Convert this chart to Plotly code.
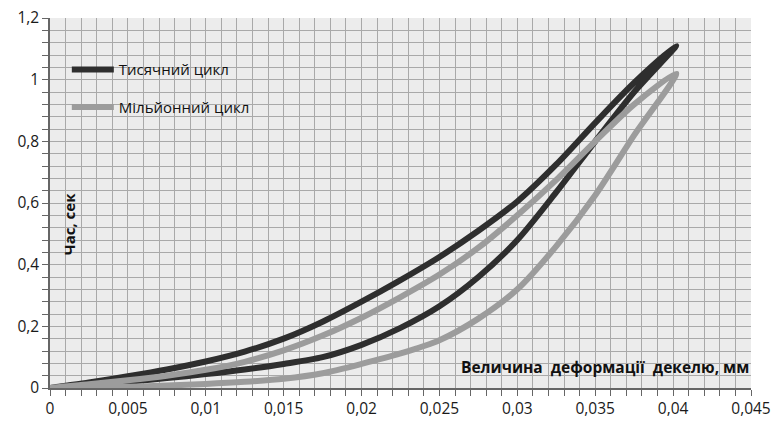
import plotly.graph_objects as go

# Тисячний цикл (dark) — loading (upper) and unloading (lower) branches
x_steps = [0, 0.0025, 0.005, 0.0075, 0.01, 0.0125, 0.015, 0.0175, 0.02,
           0.0225, 0.025, 0.0275, 0.03, 0.0325, 0.035, 0.0375, 0.0402]
thousand_upper = [0, 0.018, 0.038, 0.06, 0.086, 0.118, 0.16, 0.215, 0.28,
                  0.35, 0.425, 0.51, 0.605, 0.725, 0.86, 0.99, 1.11]
thousand_lower = [0, 0.01, 0.02, 0.032, 0.045, 0.06, 0.078, 0.10, 0.14,
                  0.195, 0.265, 0.36, 0.48, 0.635, 0.80, 0.96, 1.11]

# Мільйонний цикл (light)
million_upper = [0, 0.012, 0.025, 0.04, 0.059, 0.085, 0.122, 0.17, 0.228,
                 0.295, 0.368, 0.455, 0.56, 0.675, 0.80, 0.92, 1.02]
million_lower = [0, 0.002, 0.004, 0.008, 0.013, 0.02, 0.03, 0.048, 0.078,
                 0.112, 0.155, 0.225, 0.32, 0.46, 0.625, 0.82, 1.02]

series_names = ["Тисячний цикл", "Мільйонний цикл"]
series_colors = ["#2e2e2e", "#9c9c9c"]

x_title = "Величина  деформації  декелю, мм"
y_title = "Час, сек"

FONT = "Open Sans, Noto Sans, DejaVu Sans, sans-serif"

fig = go.Figure()
for name, color, up, low, grp in [
    (series_names[0], series_colors[0], thousand_upper, thousand_lower, "a"),
    (series_names[1], series_colors[1], million_upper, million_lower, "b"),
]:
    xs = x_steps + x_steps[::-1][1:]
    ys = up + low[::-1][1:]
    fig.add_trace(go.Scatter(
        x=xs, y=ys, mode="lines", name=name, legendgroup=grp,
        line=dict(color=color, width=6, shape="spline", smoothing=0.8),
    ))

fig.update_layout(
    width=772, height=424,
    margin=dict(l=50, r=21, t=18, b=36, autoexpand=False),
    paper_bgcolor="white",
    plot_bgcolor="#ececec",
    separators=", ",
    font=dict(family=FONT, size=16, color="#1a1a1a"),
    showlegend=True,
    legend=dict(
        x=0.024, y=0.905, xanchor="left", yanchor="top",
        bgcolor="rgba(0,0,0,0)", borderwidth=0,
        font=dict(family=FONT, size=15, color="#111"),
        traceorder="grouped", tracegroupgap=15, itemwidth=42,
    ),
)

fig.update_xaxes(
    range=[0, 0.045], dtick=0.005, tick0=0, automargin=False,
    ticklabeloverflow="allow",
    showgrid=True, gridcolor="#a9a9a9", gridwidth=1.3,
    minor=dict(dtick=0.001, showgrid=True, gridcolor="#a9a9a9", gridwidth=1.3,
               ticks="outside", ticklen=6, tickcolor="#666"),
    ticks="outside", ticklen=6, tickcolor="#666",
    showline=True, linecolor="#666", linewidth=1.5,
    zeroline=False, fixedrange=True,
    tickfont=dict(size=15.5, color="#1a1a1a"),
)
fig.update_yaxes(
    range=[0, 1.2], dtick=0.2, tick0=0, automargin=False,
    ticklabeloverflow="allow",
    showgrid=True, gridcolor="#a9a9a9", gridwidth=1.3,
    minor=dict(dtick=0.04, showgrid=True, gridcolor="#a9a9a9", gridwidth=1.3,
               ticks="outside", ticklen=6, tickcolor="#666"),
    ticks="outside", ticklen=6, tickcolor="#666",
    showline=True, linecolor="#666", linewidth=1.5,
    zeroline=False, fixedrange=True,
    tickfont=dict(size=15.5, color="#1a1a1a"),
)

fig.add_annotation(
    x=0.045, y=0, xref="x", yref="y", xanchor="right", yanchor="bottom",
    yshift=8, xshift=0, showarrow=False,
    text="<b>" + x_title + "</b>",
    font=dict(family=FONT, size=15.5, color="#111"),
)
fig.add_annotation(
    x=0.0012, y=0.53, xref="x", yref="y", xanchor="center", yanchor="middle",
    textangle=-90, showarrow=False,
    text="<b>" + y_title + "</b>",
    font=dict(family=FONT, size=15, color="#111"),
)

fig.write_html(
    "out.html",
    config={"displayModeBar": False},
    post_script="document.body.style.margin='0';document.body.style.overflow='hidden';",
)
